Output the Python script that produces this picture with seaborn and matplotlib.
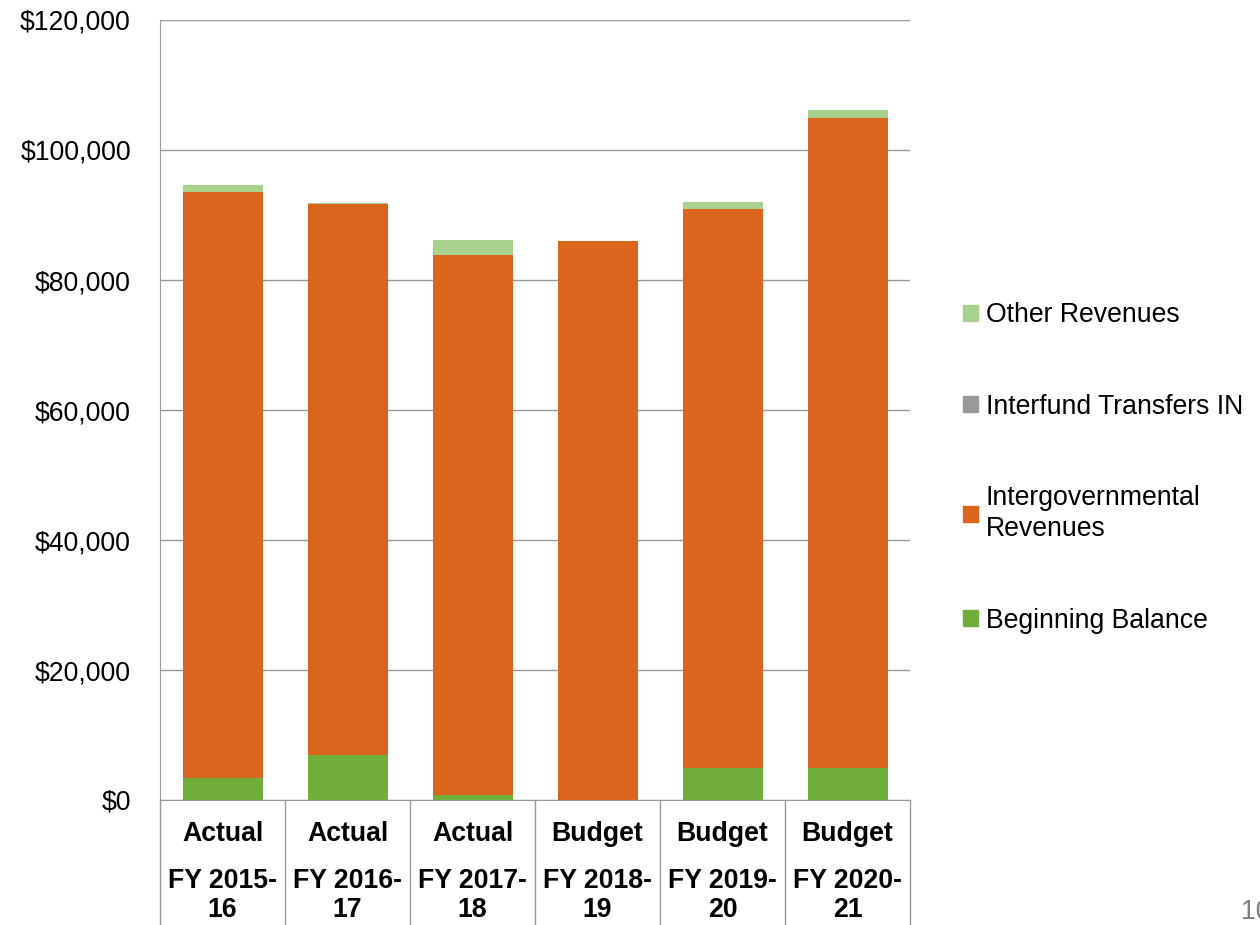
import matplotlib
matplotlib.use("Agg")
import matplotlib.pyplot as plt
from matplotlib.patches import Patch
from matplotlib.ticker import FuncFormatter
import seaborn as sns
import pandas as pd

# values (dollars)
years = ["FY 2015-\n16", "FY 2016-\n17", "FY 2017-\n18", "FY 2018-\n19", "FY 2019-\n20", "FY 2020-\n21"]
kinds = ["Actual", "Actual", "Actual", "Budget", "Budget", "Budget"]
beginning_balance = [3400, 7000, 700, 0, 5000, 5000]
intergovernmental = [90100, 84700, 83100, 86000, 85900, 99900]
interfund_in = [0, 0, 0, 0, 0, 0]
other_revenues = [1100, 200, 2300, 0, 1100, 1200]

colors = {
    "Other Revenues": "#a9d18e",
    "Interfund Transfers IN": "#999999",
    "Intergovernmental\nRevenues": "#d9661c",
    "Beginning Balance": "#70ad3a",
}

df = pd.DataFrame({
    "year": years,
    "Beginning Balance": beginning_balance,
    "Intergovernmental\nRevenues": intergovernmental,
    "Interfund Transfers IN": interfund_in,
    "Other Revenues": other_revenues,
})
stack_order = ["Beginning Balance", "Intergovernmental\nRevenues", "Interfund Transfers IN", "Other Revenues"]
cum = df[stack_order].cumsum(axis=1)
cum["year"] = df["year"]

sns.set_style("white")
plt.rcParams["font.family"] = ["Liberation Sans", "DejaVu Sans"]
plt.rcParams["text.color"] = "black"
plt.rcParams["ytick.color"] = "black"

FS = 19.2
fig = plt.figure(figsize=(12.6, 9.25), dpi=100)
ax = fig.add_axes([160 / 1260, 1 - 800 / 925, 750 / 1260, 780 / 925])

# stacked bars: draw cumulative totals from the top layer down
for name in reversed(stack_order):
    sns.barplot(data=cum, x="year", y=name, order=years, color=colors[name],
                saturation=1, width=0.64, linewidth=0, ax=ax, zorder=3)

ax.set_ylim(0, 120000)
ax.set_xlim(-0.5, 5.5)
ax.set_yticks(range(0, 120001, 20000))
ax.yaxis.set_major_formatter(FuncFormatter(lambda v, p: f"${v:,.0f}"))
ax.grid(axis="y", color="#999999", linewidth=1, zorder=0)
ax.set_axisbelow(True)
ax.tick_params(axis="y", labelsize=FS, length=0, left=False, pad=21)
ax.tick_params(axis="x", bottom=False, labelbottom=False)
ax.set_xlabel("")
ax.set_ylabel("")
for s in ["top", "right"]:
    ax.spines[s].set_visible(False)
ax.spines["left"].set_color("#999999")
ax.spines["bottom"].set_color("#999999")

# category table under the axis
trans = ax.get_xaxis_transform()
for i in range(len(years) + 1):
    ax.plot([i - 0.5, i - 0.5], [0, -0.2], transform=trans, color="#999999",
            linewidth=1, clip_on=False)
for i, (k, y) in enumerate(zip(kinds, years)):
    ax.text(i, -0.043, k, transform=trans, ha="center", va="center",
            fontsize=FS, fontweight="bold")
    ax.text(i, -0.1225, y, transform=trans, ha="center", va="center",
            fontsize=FS, fontweight="bold", linespacing=1.13)

labels = ["Other Revenues", "Interfund Transfers IN", "Intergovernmental\nRevenues", "Beginning Balance"]
handles = [Patch(color=colors[n]) for n in labels]
leg = fig.legend(handles, labels, loc="center left", bbox_to_anchor=(963 / 1260, 1 - 468 / 925),
                 frameon=False, fontsize=FS, handlelength=0.55, handleheight=0.55,
                 handletextpad=0.3, labelspacing=2.45, borderpad=0, borderaxespad=0)
for t in leg.get_texts():
    t.set_linespacing(1.25)

fig.text(1241 / 1260, 1 - 912 / 925, "10", ha="left", va="center", fontsize=FS, color="#7f7f7f")

fig.savefig("out.png", dpi=100)
